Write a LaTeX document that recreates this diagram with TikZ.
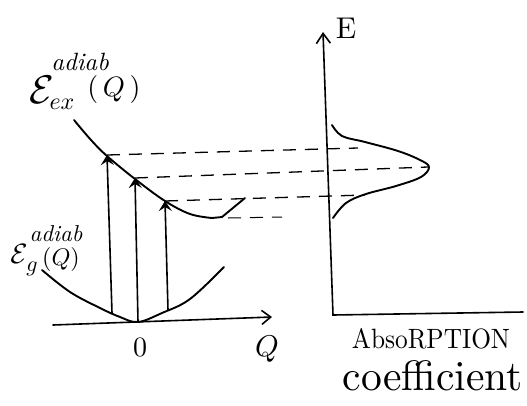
\documentclass[tikz,border=0pt]{standalone}
\usetikzlibrary{arrows.meta}
\newcommand{\sz}[2]{\scalebox{#1}{#2}}
\begin{document}
\begin{tikzpicture}[x=1pt,y=-1pt,
  curve/.style={line width=1.9pt,line cap=round,line join=round},
  axis/.style={line width=1.6pt,line cap=round},
  dsh/.style={line width=1.3pt,dash pattern=on 13pt off 9pt},
  vert/.style={line width=1.6pt,-{Stealth[length=10pt,width=13pt,inset=4pt]}},
  lbl/.style={inner sep=0pt}]
\useasboundingbox (0,0) rectangle (527,405);
% Q axis
\coordinate (qs) at (53,325);
\coordinate (qe) at (272,317);
\draw[axis,-{Straight Barb[length=9pt,width=14pt]}] (qs) -- (qe);
% E axis and absorption axis
\coordinate (ec) at (333,315);
\coordinate (et) at (323,32);
\coordinate (ee) at (523,312);
\draw[axis,-{Straight Barb[length=10pt,width=14pt]}] (ee) -- (ec) -- (et);
% ground parabola
\draw[curve] plot[smooth,tension=0.6] coordinates {(42,270) (70,292) (100,308) (120,317) (138,322) (162,313) (190,299) (224,267)};
% excited curve
\draw[curve] plot[smooth,tension=0.6] coordinates {(74,120) (91,140) (107,156) (135,179) (165,201) (190,214) (212,218)} -- (222,217) -- (245,198);
% arrow coordinates
\coordinate (a1b) at (112,313); \coordinate (a1t) at (107,155);
\coordinate (a2b) at (138,322); \coordinate (a2t) at (135,178);
\coordinate (a3b) at (168,310); \coordinate (a3t) at (165,201);
\draw[vert] (a1b) -- (a1t);
\draw[vert] (a2b) -- (a2t);
\draw[vert] (a3b) -- (a3t);
% absorption band
\draw[curve] plot[smooth,tension=0.6] coordinates {(332,125) (342,136) (365,142) (398,151) (420,160) (429,167) (421,177) (396,186) (366,194) (346,203) (333,218)};
% dashed lines
\coordinate (d1e) at (358,148);
\coordinate (d2e) at (428,167);
\coordinate (d3e) at (365,195);
\coordinate (d4s) at (228,218);
\coordinate (d4e) at (282,217);
\draw[dsh] (a1t) -- (d1e);
\draw[dsh] (a2t) -- (d2e);
\draw[dsh] (a3t) -- (d3e);
\draw[dsh,line width=1pt] (d4s) -- (d4e);
% labels: excited state
\node[lbl] (exE) at (42,90) {\sz{4}{$\mathcal{E}$}};
\node[lbl] (exsub) at (62,104) {\sz{2.4}{$ex$}};
\node[lbl] (exQ) at (114,89) {\sz{2.8}{$($\,$Q$\,$)$}};
\node[lbl] (exsup) at (80,62) {\sz{2.5}{\textit{adiab}}};
% labels: ground state
\node[lbl] (gE) at (19,254) {\sz{2.8}{$\mathcal{E}$}};
\node[lbl] (gsub) at (32,269) {\sz{2.2}{$g$}};
\node[lbl] (gQ) at (61,259) {\sz{2.4}{$(Q)$}};
\node[lbl] (gsup) at (56,234) {\sz{2.3}{\textit{adiab}}};
% axis labels
\node[lbl] (l0) at (140,347) {\sz{2.8}{0}};
\node[lbl] (lq) at (267,349) {\sz{3}{$Q$}};
\node[lbl] (le) at (346,28) {\sz{3}{E}};
\node[lbl,anchor=base] (labs) at (431,348) {\resizebox{158pt}{20pt}{AbsoRPTION}};
\node[lbl,anchor=base] (lcoef) at (433,390) {\resizebox{180pt}{30pt}{coefficient}};
\end{tikzpicture}
\end{document}
